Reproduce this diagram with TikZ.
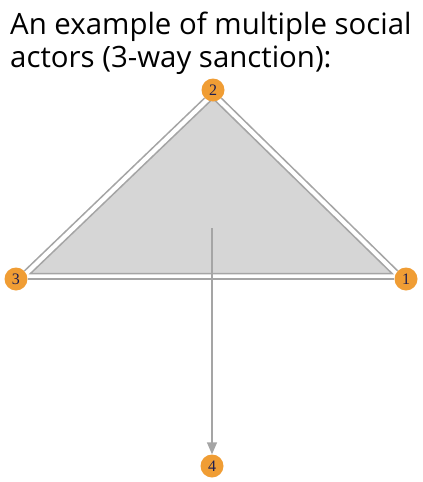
\documentclass[tikz,border=0pt]{standalone}
\usepackage{fontspec}
\setmainfont{Open Sans}
\newfontfamily\numfont{Liberation Serif}
\usetikzlibrary{arrows.meta}
\definecolor{actor}{RGB}{240,157,52}
\definecolor{numtext}{RGB}{30,30,80}
\definecolor{edgegray}{RGB}{165,165,165}
\definecolor{trifill}{RGB}{214,214,214}
\tikzset{
  actornode/.style={circle, fill=actor, minimum size=23pt, inner sep=0pt, text=numtext, font=\numfont\fontsize{16}{16}\selectfont},
  tie/.style={draw=edgegray, line width=1.5pt},
  sanctionarea/.style={fill=trifill, draw=edgegray, line width=1.5pt, line join=miter},
  sanction/.style={draw=edgegray, line width=1.5pt, -{Triangle[length=12pt,width=10pt]}}
}
\begin{document}
\begin{tikzpicture}[x=1pt,y=-1pt]
\useasboundingbox (0,0) rectangle (423,482);
\node[anchor=base west, align=left, inner sep=0pt, font=\fontsize{29.4}{33}\selectfont] (title) at (10,67) {An example of multiple social\\actors (3-way sanction):};
\coordinate (t2) at (213,98.5);
\coordinate (t3) at (30.5,273.5);
\coordinate (t1) at (392,273.5);
\draw[sanctionarea] (t2) -- (t3) -- (t1) -- cycle;
\node[actornode] (n2) at (213,90) {2};
\node[actornode] (n3) at (16,279) {3};
\node[actornode] (n1) at (406,279) {1};
\node[actornode] (n4) at (212,466) {4};
\draw[tie] (n2) -- (n3);
\draw[tie] (n2) -- (n1);
\draw[tie] (n3) -- (n1);
\coordinate (c) at (212,228);
\draw[sanction] (c) -- (n4);
\end{tikzpicture}
\end{document}
